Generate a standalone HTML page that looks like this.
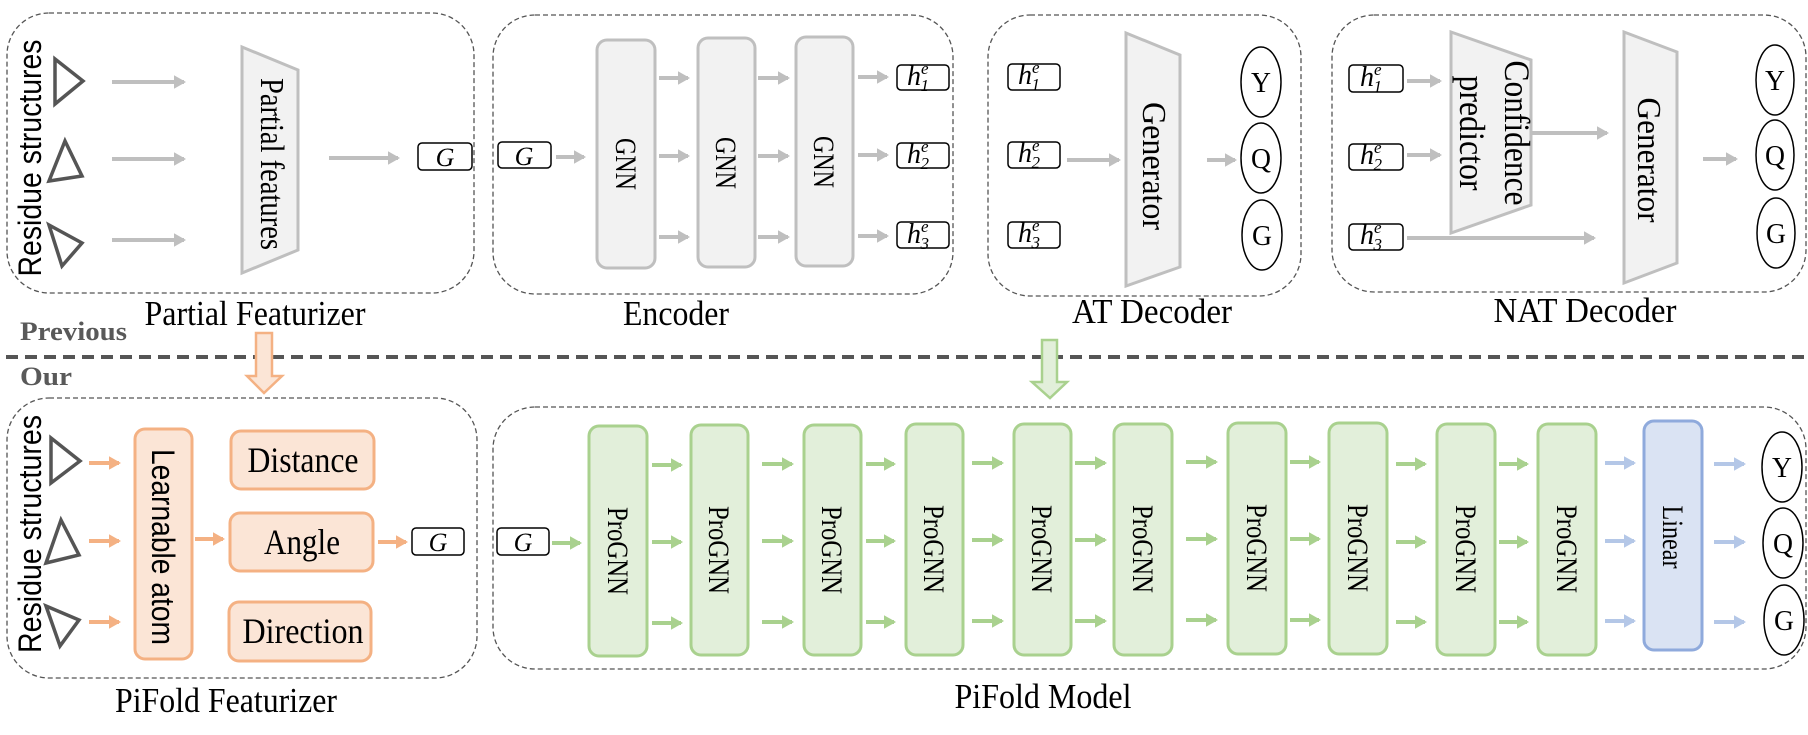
<!DOCTYPE html>
<html><head><meta charset="utf-8"><style>html,body{margin:0;padding:0;background:#fff}svg{display:block}
svg text{font-family:"Liberation Serif","Times New Roman",serif}
svg text.sans{font-family:"Liberation Sans",Arial,sans-serif}
</style></head>
<body>
<svg width="1808" height="735" viewBox="0 0 1808 735" xmlns="http://www.w3.org/2000/svg">
<defs>
<marker id="ag" markerWidth="4" markerHeight="4" refX="2.5" refY="2" orient="auto" markerUnits="strokeWidth"><path d="M0,0.3 L3,2 L0,3.7 Z" fill="#bfbfbf"/></marker>
<marker id="ao" markerWidth="4" markerHeight="4" refX="2.5" refY="2" orient="auto" markerUnits="strokeWidth"><path d="M0,0.3 L3,2 L0,3.7 Z" fill="#f4b183"/></marker>
<marker id="agr" markerWidth="4" markerHeight="4" refX="2.5" refY="2" orient="auto" markerUnits="strokeWidth"><path d="M0,0.3 L3,2 L0,3.7 Z" fill="#a9d18e"/></marker>
<marker id="ab" markerWidth="4" markerHeight="4" refX="2.5" refY="2" orient="auto" markerUnits="strokeWidth"><path d="M0,0.3 L3,2 L0,3.7 Z" fill="#b4c7e7"/></marker>
</defs>

<g fill="none" stroke="#555" stroke-width="1.3" stroke-dasharray="5,3">
<rect x="7" y="13" width="467" height="280" rx="42"/>
<rect x="493" y="15" width="460" height="279" rx="42"/>
<rect x="988" y="15" width="313" height="281" rx="42"/>
<rect x="1332" y="15" width="474" height="277" rx="42"/>
<rect x="7" y="398" width="470" height="280" rx="42"/>
<rect x="493" y="407" width="1313" height="262" rx="42"/>
</g>

<line x1="6" y1="357" x2="1808" y2="357" stroke="#555" stroke-width="4" stroke-dasharray="12,7"/>
<text x="20" y="340" font-size="26" font-weight="bold" fill="#595959" textLength="107" lengthAdjust="spacingAndGlyphs">Previous</text>
<text x="20" y="385" font-size="26" font-weight="bold" fill="#595959" textLength="52" lengthAdjust="spacingAndGlyphs">Our</text>

<path d="M256,333 L272,333 L272,376 L282,376 L264,393 L247,376 L256,376 Z" fill="#fbe5d6" stroke="#f4b183" stroke-width="2.5"/>
<path d="M1042,340 L1057,340 L1057,382 L1067,382 L1050,398 L1032,382 L1042,382 Z" fill="#e2efda" stroke="#a9d18e" stroke-width="2.5"/>

<!-- Partial Featurizer -->
<text class="sans" transform="translate(41,158) rotate(-90)" text-anchor="middle" font-size="32" textLength="237" lengthAdjust="spacingAndGlyphs">Residue structures</text>
<g fill="none" stroke="#555" stroke-width="3.5">
<path d="M55,59 L83,81 L55,104 Z"/>
<path d="M65,141 L82,176 L49,181 Z"/>
<path d="M49,225 L82,243 L62,266 Z"/>
</g>
<g stroke="#bfbfbf" stroke-width="4" marker-end="url(#ag)">
<line x1="112" y1="82" x2="184" y2="82"/>
<line x1="112" y1="159" x2="184" y2="159"/>
<line x1="112" y1="240" x2="184" y2="240"/>
<line x1="329" y1="158" x2="398" y2="158"/>
</g>
<path d="M242,47 L298,70 L298,250 L242,273 Z" fill="#f2f2f2" stroke="#bfbfbf" stroke-width="3"/>
<text transform="translate(261,164) rotate(90)" text-anchor="middle" font-size="34" textLength="172" lengthAdjust="spacingAndGlyphs">Partial features</text>
<rect x="418" y="143" width="54" height="27" rx="4" fill="#fff" stroke="#000" stroke-width="1.5"/>
<text x="445" y="166" text-anchor="middle" font-size="26" font-style="italic">G</text>
<text x="255" y="325" text-anchor="middle" font-size="35" textLength="221" lengthAdjust="spacingAndGlyphs">Partial Featurizer</text>

<!-- Encoder -->
<rect x="498" y="142" width="53" height="26" rx="4" fill="#fff" stroke="#000" stroke-width="1.5"/>
<text x="524" y="165" text-anchor="middle" font-size="26" font-style="italic">G</text>
<g stroke="#bfbfbf" stroke-width="4" marker-end="url(#ag)">
<line x1="556" y1="157" x2="584" y2="157"/>
<line x1="659" y1="78" x2="688" y2="78"/><line x1="659" y1="156" x2="688" y2="156"/><line x1="659" y1="237" x2="688" y2="237"/>
<line x1="758" y1="78" x2="788" y2="78"/><line x1="758" y1="156" x2="788" y2="156"/><line x1="758" y1="237" x2="788" y2="237"/>
<line x1="858" y1="77" x2="887" y2="77"/><line x1="858" y1="155" x2="887" y2="155"/><line x1="858" y1="236" x2="887" y2="236"/>
</g>
<g fill="#f2f2f2" stroke="#bfbfbf" stroke-width="3">
<rect x="597" y="40" width="58" height="228" rx="10"/>
<rect x="698" y="38" width="57" height="229" rx="10"/>
<rect x="796" y="37" width="57" height="229" rx="10"/>
</g>
<g font-size="30" text-anchor="middle">
<text transform="translate(616,164) rotate(90)" textLength="52" lengthAdjust="spacingAndGlyphs">GNN</text>
<text transform="translate(716,163) rotate(90)" textLength="52" lengthAdjust="spacingAndGlyphs">GNN</text>
<text transform="translate(814,162) rotate(90)" textLength="52" lengthAdjust="spacingAndGlyphs">GNN</text>
</g>
<g fill="#fff" stroke="#000" stroke-width="1.5">
<rect x="897" y="65" width="52" height="25" rx="4"/>
<rect x="897" y="143" width="52" height="25" rx="4"/>
<rect x="897" y="222" width="52" height="26" rx="4"/>
<rect x="1008" y="64" width="52" height="26" rx="4"/>
<rect x="1008" y="142" width="52" height="26" rx="4"/>
<rect x="1008" y="222" width="52" height="26" rx="4"/>
<rect x="1349" y="65" width="54" height="27" rx="4"/>
<rect x="1349" y="144" width="54" height="26" rx="4"/>
<rect x="1349" y="224" width="54" height="26" rx="4"/>
</g>
<g font-size="28" font-style="italic">
<text x="907" y="85">h<tspan font-size="17" dy="-11">e</tspan><tspan font-size="17" dx="-8" dy="17">1</tspan></text>
<text x="907" y="163">h<tspan font-size="17" dy="-11">e</tspan><tspan font-size="17" dx="-8" dy="17">2</tspan></text>
<text x="907" y="243">h<tspan font-size="17" dy="-11">e</tspan><tspan font-size="17" dx="-8" dy="17">3</tspan></text>
<text x="1018" y="84">h<tspan font-size="17" dy="-11">e</tspan><tspan font-size="17" dx="-8" dy="17">1</tspan></text>
<text x="1018" y="162">h<tspan font-size="17" dy="-11">e</tspan><tspan font-size="17" dx="-8" dy="17">2</tspan></text>
<text x="1018" y="242">h<tspan font-size="17" dy="-11">e</tspan><tspan font-size="17" dx="-8" dy="17">3</tspan></text>
<text x="1360" y="86">h<tspan font-size="17" dy="-11">e</tspan><tspan font-size="17" dx="-8" dy="17">1</tspan></text>
<text x="1360" y="164">h<tspan font-size="17" dy="-11">e</tspan><tspan font-size="17" dx="-8" dy="17">2</tspan></text>
<text x="1360" y="244">h<tspan font-size="17" dy="-11">e</tspan><tspan font-size="17" dx="-8" dy="17">3</tspan></text>
</g>
<text x="676" y="325" text-anchor="middle" font-size="35" textLength="106" lengthAdjust="spacingAndGlyphs">Encoder</text>

<!-- AT Decoder -->
<g stroke="#bfbfbf" stroke-width="4" marker-end="url(#ag)">
<line x1="1067" y1="160" x2="1119" y2="160"/>
<line x1="1207" y1="160" x2="1235" y2="160"/>
</g>
<path d="M1126,33 L1180,55 L1180,267 L1126,286 Z" fill="#f2f2f2" stroke="#bfbfbf" stroke-width="3"/>
<text transform="translate(1143,166) rotate(90)" text-anchor="middle" font-size="34" textLength="128" lengthAdjust="spacingAndGlyphs">Generator</text>
<g fill="#fff" stroke="#000" stroke-width="1.5">
<ellipse cx="1261" cy="82" rx="20" ry="35"/>
<ellipse cx="1261" cy="158" rx="20" ry="35"/>
<ellipse cx="1262" cy="235" rx="20" ry="35"/>
</g>
<g font-size="28" text-anchor="middle">
<text x="1261" y="92" textLength="20" lengthAdjust="spacingAndGlyphs">Y</text><text x="1261" y="168" textLength="20" lengthAdjust="spacingAndGlyphs">Q</text><text x="1262" y="245" textLength="20" lengthAdjust="spacingAndGlyphs">G</text>
</g>
<text x="1152" y="323" text-anchor="middle" font-size="35" textLength="160" lengthAdjust="spacingAndGlyphs">AT Decoder</text>

<!-- NAT Decoder -->
<g stroke="#bfbfbf" stroke-width="4" marker-end="url(#ag)">
<line x1="1407" y1="81" x2="1440" y2="81"/>
<line x1="1407" y1="155" x2="1440" y2="155"/>
<line x1="1531" y1="133" x2="1607" y2="133"/>
<line x1="1407" y1="238" x2="1594" y2="238"/>
<line x1="1703" y1="159" x2="1736" y2="159"/>
</g>
<path d="M1451,32 L1531,60 L1531,205 L1451,233 Z" fill="#f2f2f2" stroke="#bfbfbf" stroke-width="3"/>
<text transform="translate(1505,133) rotate(90)" text-anchor="middle" font-size="36" textLength="145" lengthAdjust="spacingAndGlyphs">Confidence</text>
<text transform="translate(1460,133) rotate(90)" text-anchor="middle" font-size="36" textLength="115" lengthAdjust="spacingAndGlyphs">predictor</text>
<path d="M1624,32 L1677,52 L1677,263 L1624,283 Z" fill="#f2f2f2" stroke="#bfbfbf" stroke-width="3"/>
<text transform="translate(1638,160) rotate(90)" text-anchor="middle" font-size="34" textLength="125" lengthAdjust="spacingAndGlyphs">Generator</text>
<g fill="#fff" stroke="#000" stroke-width="1.5">
<ellipse cx="1775" cy="80" rx="19" ry="35"/>
<ellipse cx="1775" cy="155" rx="19" ry="35"/>
<ellipse cx="1776" cy="233" rx="19" ry="35"/>
</g>
<g font-size="28" text-anchor="middle">
<text x="1775" y="90" textLength="20" lengthAdjust="spacingAndGlyphs">Y</text><text x="1775" y="165" textLength="20" lengthAdjust="spacingAndGlyphs">Q</text><text x="1776" y="243" textLength="20" lengthAdjust="spacingAndGlyphs">G</text>
</g>
<text x="1585" y="322" text-anchor="middle" font-size="35" textLength="183" lengthAdjust="spacingAndGlyphs">NAT Decoder</text>

<!-- PiFold Featurizer -->
<text class="sans" transform="translate(41,534) rotate(-90)" text-anchor="middle" font-size="32" textLength="238" lengthAdjust="spacingAndGlyphs">Residue structures</text>
<g fill="none" stroke="#555" stroke-width="3.5">
<path d="M51,438 L80,461 L51,483 Z"/>
<path d="M61,520 L79,555 L46,563 Z"/>
<path d="M46,606 L79,620 L60,646 Z"/>
</g>
<g stroke="#f4b183" stroke-width="4" marker-end="url(#ao)">
<line x1="89" y1="463" x2="119" y2="463"/>
<line x1="89" y1="541" x2="119" y2="541"/>
<line x1="89" y1="622" x2="119" y2="622"/>
<line x1="195" y1="539" x2="223" y2="539"/>
<line x1="378" y1="542" x2="406" y2="542"/>
</g>
<g fill="#fbe5d6" stroke="#f4b183" stroke-width="3">
<rect x="135" y="429" width="57" height="230" rx="10"/>
<rect x="231" y="431" width="143" height="58" rx="10"/>
<rect x="230" y="513" width="143" height="58" rx="10"/>
<rect x="229" y="602" width="142" height="59" rx="10"/>
</g>
<text class="sans" transform="translate(152,547) rotate(90)" text-anchor="middle" font-size="32" textLength="196" lengthAdjust="spacingAndGlyphs">Learnable atom</text>
<g font-size="36" text-anchor="middle">
<text x="303" y="472" textLength="111" lengthAdjust="spacingAndGlyphs">Distance</text>
<text x="302" y="554" textLength="76" lengthAdjust="spacingAndGlyphs">Angle</text>
<text x="303" y="643" textLength="121" lengthAdjust="spacingAndGlyphs">Direction</text>
</g>
<rect x="412" y="528" width="52" height="27" rx="4" fill="#fff" stroke="#000" stroke-width="1.5"/>
<text x="438" y="551" text-anchor="middle" font-size="26" font-style="italic">G</text>
<text x="226" y="712" text-anchor="middle" font-size="35" textLength="222" lengthAdjust="spacingAndGlyphs">PiFold Featurizer</text>

<!-- PiFold Model -->
<rect x="497" y="528" width="52" height="27" rx="4" fill="#fff" stroke="#000" stroke-width="1.5"/>
<text x="523" y="551" text-anchor="middle" font-size="26" font-style="italic">G</text>
<g stroke="#a9d18e" stroke-width="4" marker-end="url(#agr)">
<line x1="552" y1="543" x2="580" y2="543"/>
<line x1="652" y1="465" x2="681" y2="465"/><line x1="652" y1="542" x2="681" y2="542"/><line x1="652" y1="623" x2="681" y2="623"/>
<line x1="762" y1="464" x2="792" y2="464"/><line x1="762" y1="541" x2="792" y2="541"/><line x1="762" y1="622" x2="792" y2="622"/>
<line x1="866" y1="464" x2="894" y2="464"/><line x1="866" y1="541" x2="894" y2="541"/><line x1="866" y1="622" x2="894" y2="622"/>
<line x1="972" y1="463" x2="1002" y2="463"/><line x1="972" y1="540" x2="1002" y2="540"/><line x1="972" y1="621" x2="1002" y2="621"/>
<line x1="1075" y1="463" x2="1105" y2="463"/><line x1="1075" y1="540" x2="1105" y2="540"/><line x1="1075" y1="621" x2="1105" y2="621"/>
<line x1="1186" y1="462" x2="1216" y2="462"/><line x1="1186" y1="539" x2="1216" y2="539"/><line x1="1186" y1="620" x2="1216" y2="620"/>
<line x1="1290" y1="462" x2="1319" y2="462"/><line x1="1290" y1="539" x2="1319" y2="539"/><line x1="1290" y1="620" x2="1319" y2="620"/>
<line x1="1396" y1="464" x2="1425" y2="464"/><line x1="1396" y1="542" x2="1425" y2="542"/><line x1="1396" y1="622" x2="1425" y2="622"/>
<line x1="1499" y1="464" x2="1527" y2="464"/><line x1="1499" y1="542" x2="1527" y2="542"/><line x1="1499" y1="622" x2="1527" y2="622"/>
</g>
<g stroke="#b4c7e7" stroke-width="4" marker-end="url(#ab)">
<line x1="1605" y1="463" x2="1634" y2="463"/><line x1="1605" y1="541" x2="1634" y2="541"/><line x1="1605" y1="621" x2="1634" y2="621"/>
<line x1="1714" y1="464" x2="1744" y2="464"/><line x1="1714" y1="542" x2="1744" y2="542"/><line x1="1714" y1="622" x2="1744" y2="622"/>
</g>
<g fill="#e2efda" stroke="#a9d18e" stroke-width="3">
<rect x="589" y="426" width="58" height="230" rx="10"/>
<rect x="691" y="425" width="57" height="230" rx="10"/>
<rect x="804" y="425" width="57" height="230" rx="10"/>
<rect x="906" y="424" width="57" height="231" rx="10"/>
<rect x="1014" y="424" width="57" height="231" rx="10"/>
<rect x="1114" y="424" width="58" height="231" rx="10"/>
<rect x="1228" y="423" width="58" height="231" rx="10"/>
<rect x="1329" y="423" width="58" height="231" rx="10"/>
<rect x="1437" y="424" width="58" height="231" rx="10"/>
<rect x="1538" y="424" width="58" height="231" rx="10"/>
</g>
<rect x="1644" y="421" width="58" height="229" rx="10" fill="#dae3f3" stroke="#8faadc" stroke-width="3"/>
<g font-size="30" text-anchor="middle">
<text transform="translate(608,551) rotate(90)" textLength="88" lengthAdjust="spacingAndGlyphs">ProGNN</text>
<text transform="translate(709,550) rotate(90)" textLength="88" lengthAdjust="spacingAndGlyphs">ProGNN</text>
<text transform="translate(822,550) rotate(90)" textLength="88" lengthAdjust="spacingAndGlyphs">ProGNN</text>
<text transform="translate(924,549) rotate(90)" textLength="88" lengthAdjust="spacingAndGlyphs">ProGNN</text>
<text transform="translate(1032,549) rotate(90)" textLength="88" lengthAdjust="spacingAndGlyphs">ProGNN</text>
<text transform="translate(1133,549) rotate(90)" textLength="88" lengthAdjust="spacingAndGlyphs">ProGNN</text>
<text transform="translate(1247,548) rotate(90)" textLength="88" lengthAdjust="spacingAndGlyphs">ProGNN</text>
<text transform="translate(1348,548) rotate(90)" textLength="88" lengthAdjust="spacingAndGlyphs">ProGNN</text>
<text transform="translate(1456,549) rotate(90)" textLength="88" lengthAdjust="spacingAndGlyphs">ProGNN</text>
<text transform="translate(1557,549) rotate(90)" textLength="88" lengthAdjust="spacingAndGlyphs">ProGNN</text>
<text transform="translate(1663,537) rotate(90)" textLength="63" lengthAdjust="spacingAndGlyphs">Linear</text>
</g>
<g fill="#fff" stroke="#000" stroke-width="1.5">
<ellipse cx="1782" cy="467" rx="20" ry="35"/>
<ellipse cx="1783" cy="543" rx="20" ry="35"/>
<ellipse cx="1784" cy="620" rx="20" ry="35"/>
</g>
<g font-size="28" text-anchor="middle">
<text x="1782" y="477" textLength="20" lengthAdjust="spacingAndGlyphs">Y</text><text x="1783" y="553" textLength="20" lengthAdjust="spacingAndGlyphs">Q</text><text x="1784" y="630" textLength="20" lengthAdjust="spacingAndGlyphs">G</text>
</g>
<text x="1043" y="708" text-anchor="middle" font-size="35" textLength="177" lengthAdjust="spacingAndGlyphs">PiFold Model</text>
</svg>
</body></html>
